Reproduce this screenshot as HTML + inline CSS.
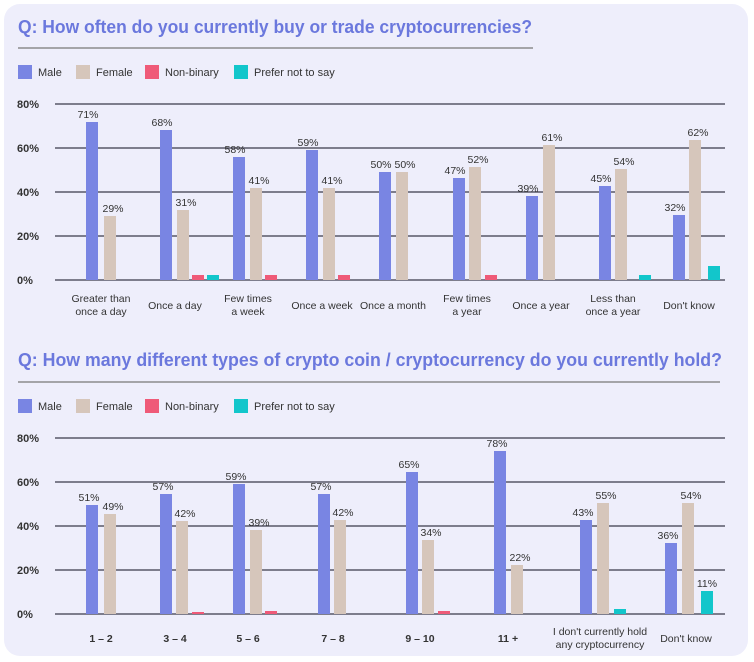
<!DOCTYPE html>
<html><head><meta charset="utf-8"><style>
html,body{margin:0;padding:0;background:#fff;width:754px;height:662px;overflow:hidden}
svg{display:block;font-family:"Liberation Sans",sans-serif}
</style></head><body>
<svg id="s" width="754" height="662" xmlns="http://www.w3.org/2000/svg">
<rect x="4" y="4" width="744" height="652" rx="16" fill="#eeeefb"/>
<text x="18" y="33" font-size="18.5" font-weight="bold" fill="#6b78dd" textLength="514" lengthAdjust="spacingAndGlyphs">Q: How often do you currently buy or trade cryptocurrencies?</text>
<line x1="18" y1="48" x2="533" y2="48" stroke="#777" stroke-width="1.2"/>
<text x="18" y="366" font-size="18.5" font-weight="bold" fill="#6b78dd" textLength="704" lengthAdjust="spacingAndGlyphs">Q: How many different types of crypto coin / cryptocurrency do you currently hold?</text>
<line x1="18" y1="382" x2="720" y2="382" stroke="#777" stroke-width="1.2"/>
<g id="g"></g>
</svg>
<script>
var g=document.getElementById('g'),h='';
var C=['#7985e3','#d6c6bb','#ef5a78','#12c6cb'];
function leg(y){var xs=[18,76,145,234],t=['Male','Female','Non-binary','Prefer not to say'];
for(var i=0;i<4;i++){h+='<rect x="'+xs[i]+'" y="'+(y-7)+'" width="14" height="14" fill="'+C[i]+'"/><text x="'+(xs[i]+20)+'" y="'+(y+4)+'" font-size="11" fill="#333">'+t[i]+'</text>';}}
leg(72);leg(406);
function axes(y0){for(var k=0;k<5;k++){var y=y0+k*44;h+='<line x1="55" y1="'+y+'" x2="725" y2="'+y+'" stroke="#3a3a4a" stroke-width="1.3"/><text x="17" y="'+(y+4)+'" font-size="11" font-weight="bold" fill="#333">'+(80-20*k)+'%</text>';}}
axes(104);axes(438);
function bar(x,top,base,c,lab,dx){dx=dx||0;h+='<rect x="'+x+'" y="'+top+'" width="12" height="'+(base-top)+'" fill="'+C[c]+'"/>';
if(lab)h+='<text x="'+(x+6+dx)+'" y="'+(top-4)+'" font-size="10.5" text-anchor="middle" fill="#333">'+lab+'</text>';}
var b1=280;
var m1=[[86,122,'71%'],[160,130,'68%'],[233,157,'58%'],[306,150,'59%'],[379,172,'50%'],[453,178,'47%'],[526,196,'39%'],[599,186,'45%'],[673,215,'32%']];
var f1=[[104,216,'29%'],[177,210,'31%'],[250,188,'41%'],[323,188,'41%'],[396,172,'50%'],[469,167,'52%'],[543,145,'61%'],[615,169,'54%'],[689,140,'62%']];
m1.forEach(function(a){bar(a[0],a[1],b1,0,a[2],-4);});
f1.forEach(function(a){bar(a[0],a[1],b1,1,a[2],3);});
[192,265,338,485].forEach(function(x){bar(x,275,b1,2);});
bar(207,275,b1,3);bar(639,275,b1,3);bar(708,266,b1,3);
function cat(x,y,l1,l2){if(l2){h+='<text x="'+x+'" y="'+y+'" font-size="10.5" text-anchor="middle" fill="#333">'+l1+'</text><text x="'+x+'" y="'+(y+13)+'" font-size="10.5" text-anchor="middle" fill="#333">'+l2+'</text>';}
else h+='<text x="'+x+'" y="'+(y+7)+'" font-size="10.5" text-anchor="middle" fill="#333">'+l1+'</text>';}
cat(101,302,'Greater than','once a day');cat(175,302,'Once a day');cat(248,302,'Few times','a week');cat(322,302,'Once a week');cat(393,302,'Once a month');cat(467,302,'Few times','a year');cat(541,302,'Once a year');cat(613,302,'Less than','once a year');cat(689,302,"Don't know");
var b2=614;
var m2=[[86,505,'51%'],[160,494,'57%'],[233,484,'59%'],[318,494,'57%'],[406,472,'65%'],[494,451,'78%'],[580,520,'43%'],[665,543,'36%']];
var f2=[[104,514,'49%'],[176,521,'42%'],[250,530,'39%'],[334,520,'42%'],[422,540,'34%'],[511,565,'22%'],[597,503,'55%'],[682,503,'54%']];
m2.forEach(function(a){bar(a[0],a[1],b2,0,a[2],-3);});
f2.forEach(function(a){bar(a[0],a[1],b2,1,a[2],3);});
bar(192,612,b2,2);bar(265,611,b2,2);bar(438,611,b2,2);
bar(614,609,b2,3);bar(701,591,b2,3,'11%');
var c2=[[101,'1 – 2'],[175,'3 – 4'],[248,'5 – 6'],[333,'7 – 8'],[420,'9 – 10'],[508,'11 +']];
c2.forEach(function(a){h+='<text x="'+a[0]+'" y="642" font-size="10.5" font-weight="bold" text-anchor="middle" fill="#333">'+a[1]+'</text>';});
h+='<text x="686" y="642" font-size="10.5" text-anchor="middle" fill="#333">Don\'t know</text>';
cat(600,635,"I don't currently hold",'any cryptocurrency');
g.innerHTML=h;
</script>
</body></html>
